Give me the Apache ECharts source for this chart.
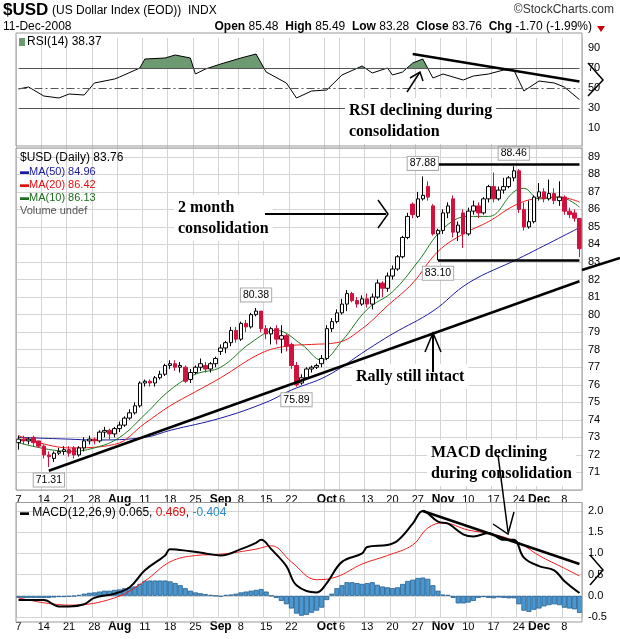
<!DOCTYPE html>
<html><head><meta charset="utf-8">
<script src="https://cdn.jsdelivr.net/npm/echarts@6/dist/echarts.min.js"></script>
<style>body{margin:0;background:#fff}#main{width:620px;height:639px}</style>
</head><body><div id="main"></div>
<script>
// trading days Jul 7 - Dec 11 2008 (Labor Day, Thanksgiving closed)
const holidays = ['9/1', '11/27']
const dates = []
for (let d = new Date(2008, 6, 7); d <= new Date(2008, 11, 11); d.setDate(d.getDate() + 1)) {
    const key = (d.getMonth() + 1) + '/' + d.getDate()
    if (d.getDay() === 0 || d.getDay() === 6 || holidays.includes(key)) continue
    dates.push(key)
}

// [open, close, low, high]
const ohlc = [
    [72.7,72.9,72.3,73.1],[72.9,72.8,72.6,73.1],[72.8,72.9,72.6,73.0],[73.0,72.7,72.5,73.1],[72.8,72.5,72.4,72.8],
    [72.5,72.0,71.8,72.6],[72.0,71.9,71.31,72.2],[71.8,72.1,71.6,72.2],[72.1,72.2,72.0,72.4],[72.2,72.3,72.0,72.5],
    [72.3,72.1,71.9,72.5],[72.4,72.0,71.8,72.5],[72.0,72.4,71.9,72.5],[72.4,72.8,72.2,73.0],[72.8,72.9,72.6,73.1],
    [72.9,72.8,72.6,73.0],[72.8,73.3,72.7,73.4],[73.3,73.4,73.0,73.6],[73.4,73.2,72.9,73.5],[73.2,73.5,73.0,73.6],
    [73.5,73.7,73.3,73.9],[73.7,74.1,73.6,74.2],[74.1,74.4,74.0,74.6],[74.4,74.8,74.3,75.0],[74.8,76.1,74.7,76.2],
    [76.1,76.2,75.9,76.3],[76.2,76.1,75.9,76.3],[76.1,76.4,75.9,76.5],[76.4,76.6,76.3,76.8],[76.6,77.1,76.5,77.2],
    [77.1,77.2,76.9,77.4],[77.2,77.0,76.8,77.4],[77.0,77.1,76.7,77.3],[77.0,76.2,76.1,77.1],[76.3,76.7,76.1,76.9],
    [76.7,77.0,76.6,77.1],[77.0,77.2,76.8,77.5],[77.1,76.9,76.7,77.3],[76.9,77.2,76.7,77.3],[77.2,77.5,77.0,77.6],
    [77.9,78.1,77.7,78.3],[78.1,78.4,77.8,78.5],[78.4,79.1,78.2,79.3],[79.1,78.6,78.4,79.3],
    [78.6,79.5,78.5,79.6],[79.5,79.3,79.0,79.7],[79.3,80.0,79.2,80.1],[80.0,80.2,79.9,80.38],[80.2,79.2,79.0,80.2],
    [79.2,78.9,78.6,79.4],[78.9,79.2,78.3,79.3],[79.2,78.6,78.3,79.4],[78.6,78.8,77.8,79.4],[78.8,78.2,77.9,78.9],
    [78.3,77.1,76.9,78.4],[77.1,76.0,75.89,77.3],[76.1,76.4,76.0,76.6],[76.4,76.9,76.3,77.0],[76.9,77.0,76.7,77.1],
    [77.0,77.1,76.9,77.2],[77.2,77.5,77.0,77.7],[77.5,79.2,77.4,79.4],[79.2,79.6,79.0,79.8],[79.6,80.1,79.5,80.3],
    [80.1,80.6,80.0,80.9],[80.6,81.2,80.2,81.4],[81.2,80.8,80.7,81.3],[80.8,80.6,80.4,81.0],[80.6,80.9,80.5,81.1],
    [80.9,80.6,80.4,81.2],[80.6,81.0,80.3,81.2],[81.0,81.8,80.9,82.0],[81.8,81.5,81.0,81.9],[81.5,82.2,81.3,82.4],
    [82.2,82.6,82.0,82.8],[82.6,83.3,82.5,83.4],[83.3,84.4,83.2,84.5],[84.4,85.6,84.3,85.8],[86.3,85.7,85.5,86.4],
    [85.6,86.6,85.5,87.0],[86.6,86.8,86.5,87.88],[87.3,86.7,86.5,87.6],[86.2,84.6,84.5,86.3],[84.6,84.8,83.10,84.9],
    [84.8,85.8,84.6,86.0],[85.8,86.2,85.5,86.4],[86.6,84.7,84.4,86.8],[84.7,85.1,84.2,85.3],[85.8,84.6,83.8,86.0],
    [84.6,85.9,84.5,86.1],[85.9,86.2,85.7,86.5],[86.2,85.8,85.5,86.4],[85.8,86.6,85.7,86.7],[86.6,87.3,86.4,87.4],
    [87.3,86.6,86.4,88.1],[86.6,87.1,86.5,87.3],[87.1,87.3,86.9,87.8],[87.3,87.8,87.2,87.9],[87.8,88.2,87.6,88.46],
    [88.2,86.0,85.8,88.3],[86.0,85.0,84.8,86.4],[85.0,85.3,84.9,86.5],[85.3,86.7,85.2,86.8],
    [86.7,87.0,86.5,87.5],[87.0,86.6,86.4,87.2],[86.6,86.9,86.5,87.7],[86.9,86.5,86.3,87.2],[86.5,86.7,86.2,87.6],
    [86.7,85.9,85.7,86.8],[85.9,85.7,85.5,86.1],[85.8,85.5,85.3,86.0],[85.48,83.76,83.28,85.49]
]

const ma50 = [['7/7',73.0],['7/21',72.9],['7/28',72.85],['8/11',73.0],['8/18',73.4],['9/2',74.1],['9/15',75.0],['9/22',75.7],['10/1',76.5],['10/13',78.0],['10/20',78.9],['10/30',80.2],['11/10',81.8],['11/24',83.2],['12/11',84.96]]
const ma20 = [['7/7',73.1],['7/21',72.4],['8/1',72.6],['8/11',73.8],['8/18',74.8],['8/25',75.6],['9/2',76.4],['9/12',77.8],['9/19',78.2],['9/26',78.3],['10/3',78.4],['10/10',79.2],['10/17',80.5],['10/24',81.8],['10/31',83.6],['11/7',84.6],['11/14',85.3],['11/21',86.2],['11/28',86.6],['12/5',86.7],['12/11',86.42]]
const ma10 = [['7/7',72.7],['7/21',72.2],['7/28',72.4],['8/4',73.0],['8/11',74.3],['8/18',75.7],['8/25',76.6],['9/2',77.0],['9/10',78.4],['9/17',79.1],['9/24',78.3],['9/30',77.4],['10/6',78.5],['10/13',80.3],['10/20',81.3],['10/27',83.0],['11/3',84.9],['11/10',85.6],['11/14',85.6],['11/21',87.0],['11/25',87.2],['12/1',86.6],['12/5',86.7],['12/11',86.13]]

const rsi = [['7/7',49],['7/9',51],['7/14',42],['7/17',40],['7/21',44],['7/24',43],['7/28',55],['8/1',59],['8/4',61],['8/8',70],['8/11',79],['8/15',80],['8/19',83],['8/22',80],['8/25',64],['8/27',69],['9/2',74],['9/8',80],['9/11',84],['9/15',66],['9/19',55],['9/23',40],['9/26',47],['10/1',48],['10/6',63],['10/10',72],['10/14',65],['10/17',70],['10/20',63],['10/22',66],['10/24',75],['10/28',79],['10/30',60],['11/3',64],['11/7',58],['11/11',62],['11/14',64],['11/19',68],['11/21',68],['11/25',47],['12/1',57],['12/4',55],['12/8',51],['12/11',38.37]]

const macd = [['7/7',-0.1],['7/14',-0.1],['7/17',-0.25],['7/21',-0.25],['7/24',-0.2],['7/28',-0.05],['8/1',0.05],['8/6',0.2],['8/11',0.6],['8/15',0.95],['8/18',1.1],['8/22',1.05],['8/27',1.0],['9/2',0.95],['9/8',1.1],['9/11',1.25],['9/12',1.32],['9/16',1.1],['9/19',0.7],['9/23',0.25],['9/29',0.08],['10/1',0.3],['10/6',0.8],['10/10',1.0],['10/13',1.15],['10/17',1.2],['10/21',1.3],['10/24',1.7],['10/28',2.0],['10/31',1.75],['11/4',1.7],['11/7',1.45],['11/11',1.4],['11/14',1.48],['11/19',1.32],['11/21',1.32],['11/25',0.9],['12/1',0.7],['12/4',0.6],['12/8',0.35],['12/11',0.065]]
const signal = [['7/7',-0.05],['7/21',-0.22],['8/1',-0.05],['8/11',0.35],['8/18',0.8],['8/25',0.95],['9/2',0.98],['9/11',1.1],['9/16',1.18],['9/22',0.8],['9/29',0.38],['10/3',0.45],['10/10',0.75],['10/17',0.95],['10/24',1.2],['10/29',1.6],['11/3',1.72],['11/10',1.55],['11/17',1.45],['11/24',1.25],['12/1',0.95],['12/8',0.65],['12/11',0.469]]
const hist = [
    -0.05,-0.05,-0.05,-0.05,-0.05, -0.05,-0.05,-0.04,-0.03,-0.03, -0.02,-0.01,0.02,0.05,0.07,
    0.08,0.1,0.12,0.12,0.14, 0.15,0.18,0.2,0.22,0.28, 0.35,0.36,0.36,0.36,0.36,
    0.34,0.3,0.25,0.18,0.12, 0.08,0.06,0.04,0.02,0.0, -0.02,0.02,0.03,0.05,
    0.08,0.1,0.12,0.14,0.16, 0.1,0.0,-0.05,-0.12,-0.2, -0.3,-0.42,-0.47,-0.45,-0.4,
    -0.35,-0.28,-0.1,0.05,0.18, 0.25,0.32,0.32,0.3,0.28, 0.3,0.32,0.26,0.22,0.2,
    0.18,0.2,0.28,0.35,0.38, 0.42,0.43,0.4,0.25,0.12, 0.03,0.02,-0.05,-0.18,-0.18,
    -0.16,-0.12,-0.05,-0.03,-0.05, -0.06,-0.04,-0.05,-0.06,-0.06, -0.2,-0.35,-0.38,-0.33,
    -0.3,-0.25,-0.22,-0.2,-0.22, -0.28,-0.3,-0.32,-0.404
]

const tickLabels = [['7/7','7'],['7/14','14'],['7/21','21'],['7/28','28'],['8/4','Aug'],['8/11','11'],['8/18','18'],['8/25','25'],['9/2','Sep'],['9/8','8'],['9/15','15'],['9/22','22'],['10/1','Oct'],['10/6','6'],['10/13','13'],['10/20','20'],['10/27','27'],['11/3','Nov'],['11/10','10'],['11/17','17'],['11/24','24'],['12/1','Dec'],['12/8','8']]

const tickMap = {}
tickLabels.forEach(t => tickMap[t[0]] = t[1])
const isTick = (i) => tickMap[dates[i]] !== undefined
const fmtTick = (v) => {
    const t = tickMap[v]
    if (t === undefined) return ''
    return isNaN(t) ? '{b|' + t + '}' : t
}
const ix = (d) => dates.indexOf(d)
const pts = (arr) => arr.map(p => [ix(p[0]), p[1]])

const font = 'Liberation Sans'
const L = 16, R = 38
const mkX = (idx, showLabel, split) => ({
    type: 'category', gridIndex: idx, data: dates, boundaryGap: true,
    axisLine: {show: false}, axisTick: {show: false},
    splitLine: {show: split !== false, interval: isTick, lineStyle: {color: '#d4d4d4'}},
    axisLabel: {show: showLabel, interval: isTick, formatter: fmtTick, color: '#000', fontFamily: font, fontSize: 11, margin: 4,
        rich: {b: {fontWeight: 'bold', fontSize: 12, fontFamily: font}}}
})
const mkY = (idx, min, max, interval, hide, split) => ({
    type: 'value', gridIndex: idx, position: 'right', min, max, interval,
    axisLine: {show: false}, axisTick: {show: false},
    splitLine: {show: split, lineStyle: {color: '#d4d4d4'}},
    axisLabel: {show: hide !== null, color: '#000', fontFamily: font, fontSize: 11, margin: 6,
        formatter: v => (hide && hide(v)) ? '' : (Math.abs(v) < 1e-9 ? '0.0' : (interval < 1 ? v.toFixed(1) : String(v)))}
})
const line = (c, w) => ({type: 'line', symbol: 'none', lineStyle: {color: c, width: w}, itemStyle: {color: c}})
const seg = (a, b, st) => [{coord: [ix(a[0]), a[1]], lineStyle: st}, {coord: [ix(b[0]), b[1]]}]
const tag = (d, v, pos) => ({coord: [ix(d), v], value: v.toFixed(2), label: {position: pos}})
const heavy = {color: '#000', width: 2.5, type: 'solid'}
const marks = (data) => ({silent: true, symbol: ['none', 'none'], label: {show: false}, lineStyle: heavy, data})

const chart = echarts.init(document.getElementById('main'))
const txt = (x, y, text, st) => ({type: 'text', left: x, top: y, z: 100, style: Object.assign({text, fontFamily: font, fontSize: 11, fill: '#000'}, st || {})})
const pl = (p, w) => ({type: 'polyline', z: 100, shape: {points: p}, style: {stroke: '#000', lineWidth: w || 1.5, fill: null}})
const note = (x, y, text) => ({type: 'text', left: x, top: y, z: 100, style: {text, fontFamily: 'Liberation Serif', fontWeight: 'bold', fontSize: 16, lineHeight: 21, fill: '#000', backgroundColor: '#fff', padding: [2, 4]}})
const panel = (y, h) => ({type: 'rect', z: 90, silent: true, shape: {x: L, y, width: 620 - L - R, height: h}, style: {fill: 'none', stroke: '#999', lineWidth: 1}})

const thin = {color: '#555', width: 1, type: 'solid'}
const option = {
    animation: false,
    textStyle: {fontFamily: font},
    grid: [
        {left: L, right: R, top: 38, height: 110},
        {left: L, right: R, top: 148, height: 342},
        {left: L, right: R, top: 502.5, height: 114.5},
        {left: L, right: R, top: 38, height: 30}
    ],
    xAxis: [mkX(0, false), mkX(1, true), mkX(2, true), mkX(3, false, false)],
    yAxis: [
        mkY(0, -10, 100, 20, v => v < 0 || v > 90, false),
        mkY(1, 70, 89.5, 1, v => v < 71, true),
        mkY(2, -0.5, 2.2, 0.5, v => false, true),
        mkY(3, 70, 100, 30, null, false)
    ],
    series: [
        // overbought fill, clipped by a grid that covers RSI 70..100 only
        {type: 'line', xAxisIndex: 3, yAxisIndex: 3, data: pts(rsi), symbol: 'none', clip: true, lineStyle: {width: 0},
            areaStyle: {color: '#6e9a72', opacity: 1, origin: 'start'}, z: 2},
        Object.assign(line('#000', 1), {xAxisIndex: 0, yAxisIndex: 0, data: pts(rsi), z: 3,
            markLine: marks([
                seg(['7/7', 70], ['12/11', 70], thin),
                seg(['7/7', 30], ['12/11', 30], thin),
                seg(['7/7', 50], ['12/11', 50], {color: '#555', width: 1, type: [8, 3, 2, 3]}),
                seg(['10/24', 84], ['12/11', 56.5], heavy)
            ])}),
        {type: 'candlestick', xAxisIndex: 1, yAxisIndex: 1, data: ohlc, barWidth: 4,
            itemStyle: {color: '#fff', color0: '#d2123e', borderColor: '#000', borderColor0: '#d2123e', borderWidth: 1}, z: 3,
            markLine: marks([
                seg(['7/15', 71.1], ['12/11', 81.9], heavy),
                seg(['10/23', 88.55], ['12/11', 88.55], heavy),
                seg(['10/31', 83.1], ['12/11', 83.1], heavy)
            ])},
        Object.assign(line('#1a1aa0', 1), {xAxisIndex: 1, yAxisIndex: 1, data: pts(ma50), smooth: 0.4, z: 2}),
        Object.assign(line('#f21b1b', 1), {xAxisIndex: 1, yAxisIndex: 1, data: pts(ma20), smooth: 0.4, z: 2}),
        Object.assign(line('#1d7a1d', 1), {xAxisIndex: 1, yAxisIndex: 1, data: pts(ma10), smooth: 0.4, z: 2,
            markPoint: {symbol: 'rect', symbolSize: 1, itemStyle: {color: 'rgba(0,0,0,0)'}, label: {show: true, formatter: p => p.value, fontSize: 10.5, fontFamily: font, color: '#000',
                backgroundColor: '#fff', borderColor: '#aaa', borderWidth: 1, padding: [1, 2], distance: 6},
                data: [tag('10/28', 87.88, 'top'), tag('11/21', 88.46, 'top'), tag('10/31', 83.10, 'bottom'),
                    tag('9/11', 80.38, 'top'), tag('9/23', 75.89, 'bottom'), tag('7/15', 71.31, 'bottom')]}}),
        {type: 'bar', xAxisIndex: 2, yAxisIndex: 2, data: hist, barCategoryGap: '0%', itemStyle: {color: '#4b97cf', borderColor: '#24608f', borderWidth: 0.8}, z: 1},
        Object.assign(line('#f21b1b', 1), {xAxisIndex: 2, yAxisIndex: 2, data: pts(signal), smooth: 0.4, z: 2}),
        Object.assign(line('#000', 2), {xAxisIndex: 2, yAxisIndex: 2, data: pts(macd), smooth: 0.4, z: 3,
            markLine: marks([seg(['10/28', 2.0], ['12/11', 0.75], heavy)])})
    ],
    graphic: [
        panel(33, 113), panel(148, 342), panel(502.5, 119.5),
        txt(3, 2, '$USD', {fontSize: 17, fontWeight: 'bold'}),
        txt(52, 5, '(US Dollar Index (EOD))  INDX', {fontSize: 12}),
        {type: 'text', right: 6, top: 4, z: 100, style: {text: '©StockCharts.com', fontFamily: font, fontSize: 12, fill: '#333'}},
        txt(3, 21, '11-Dec-2008', {fontSize: 12}),
        {type: 'text', right: 28, top: 21, z: 100, style: {
            text: '{b|Open} 85.48  {b|High} 85.49  {b|Low} 83.28  {b|Close} 83.76  {b|Chg} -1.70 (-1.99%)',
            fontFamily: font, fontSize: 12, fill: '#000', rich: {b: {fontWeight: 'bold', fontSize: 12, fontFamily: font}}}},
        {type: 'polygon', z: 100, shape: {points: [[597, 26], [605, 26], [601, 32]]}, style: {fill: '#c00'}},
        {type: 'rect', z: 100, shape: {x: 19, y: 38, width: 6, height: 8}, style: {fill: '#6e9a72'}},
        txt(27, 36, 'RSI(14) 38.37', {fontSize: 12}),
        txt(20, 152, '$USD (Daily) 83.76', {fontSize: 12}),
        txt(20, 166, '{l|▬}MA(50) 84.96', {fill: '#1a1aa0', rich: {l: {fill: '#1a1aa0', fontSize: 9}}}),
        txt(20, 179, '{l|▬}MA(20) 86.42', {fill: '#e01010', rich: {l: {fill: '#e01010', fontSize: 9}}}),
        txt(20, 192, '{l|▬}MA(10) 86.13', {fill: '#1d6d1d', rich: {l: {fill: '#1d6d1d', fontSize: 9}}}),
        txt(20, 205, 'Volume undef', {fill: '#555'}),
        txt(20, 507, '{k|▬} MACD(12,26,9) 0.065, {r|0.469}, {c|-0.404}', {fontSize: 12, rich: {k: {fontSize: 9}, r: {fill: '#e01010', fontSize: 12}, c: {fill: '#2a8ac4', fontSize: 12}}}),
        note(345, 98, 'RSI declining during\nconsolidation'),
        note(174, 195, '2 month\nconsolidation'),
        note(352, 364, 'Rally still intact'),
        note(427, 440, 'MACD declining\nduring consolidation'),
        pl([[407, 92], [420, 72]]), pl([[410, 78], [420, 72], [423, 81]]),
        pl([[588, 63], [603, 80], [588, 96]]),
        pl([[265, 214], [386, 214]], 2), pl([[378, 200], [388, 214], [378, 228]]),
        pl([[433, 372], [433, 333]], 2), pl([[425, 352], [433, 333], [441, 352]]),
        pl([[498, 455], [508, 532]], 1.5), pl([[493, 524], [508, 534], [514, 512]]),
        pl([[590, 555], [603, 570], [590, 585]]),
        pl([[582, 270], [620, 258]], 2.5)
    ]
}
try {
    chart.setOption(option)
} catch (e) {
    console.error('setOption failed: ' + e.stack)
}
</script></body></html>
